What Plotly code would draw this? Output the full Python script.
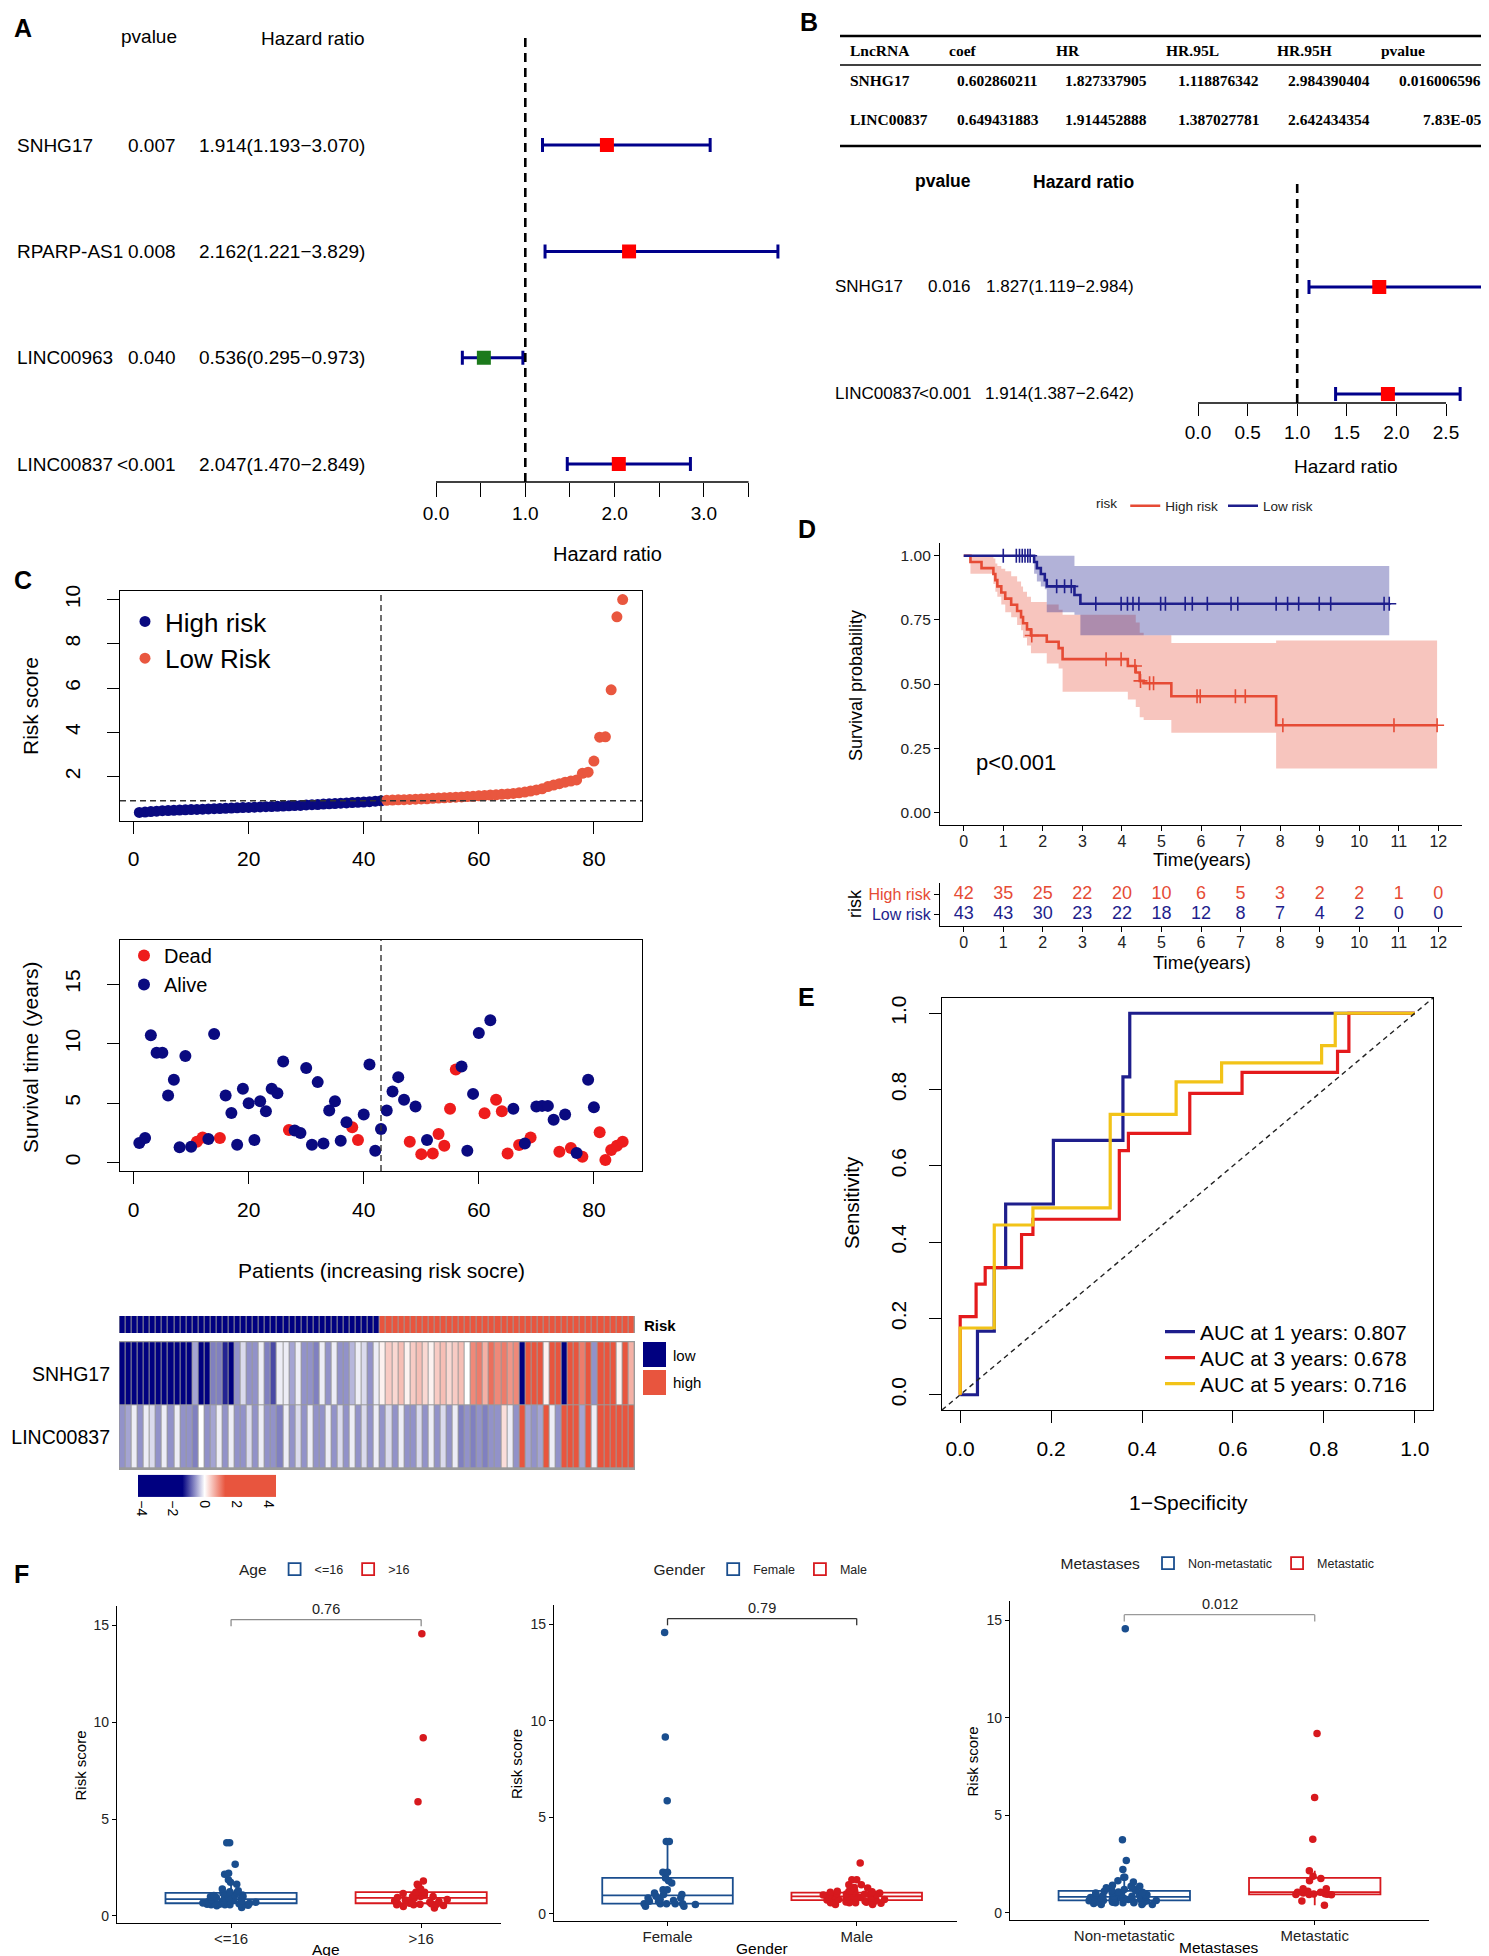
import numpy as np
import plotly.graph_objects as go

W, H = 1489, 1956
FONT = "Liberation Sans, Arial, Helvetica, sans-serif"
SERIF = "Liberation Serif, Times New Roman, serif"

# ============================ DATA ============================
# Panel A : univariate Cox regression
a_genes = ["SNHG17", "RPARP-AS1", "LINC00963", "LINC00837"]
a_pvalue = ["0.007", "0.008", "0.040", "<0.001"]
a_hr = [1.914, 2.162, 0.536, 2.047]
a_lower = [1.193, 1.221, 0.295, 1.470]
a_upper = [3.070, 3.829, 0.973, 2.849]
a_ticks = [0.0, 0.5, 1.0, 1.5, 2.0, 2.5, 3.0, 3.5]
a_ticklabels = ["0.0", "", "1.0", "", "2.0", "", "3.0", ""]

# Panel B : multivariate Cox regression (table + forest)
b_header = ["LncRNA", "coef", "HR", "HR.95L", "HR.95H", "pvalue"]
b_genes = ["SNHG17", "LINC00837"]
b_coef = [0.602860211, 0.649431883]
b_hr = [1.827337905, 1.914452888]
b_lower = [1.118876342, 1.387027781]
b_upper = [2.984390404, 2.642434354]
b_pval = [0.016006596, 7.83e-05]
b_ticks = [0.0, 0.5, 1.0, 1.5, 2.0, 2.5]

# Panel C : risk score, survival status, heatmap
risk_score = [0.38, 0.40, 0.42, 0.44, 0.46, 0.47, 0.48, 0.49, 0.50, 0.51,
              0.52, 0.53, 0.54, 0.55, 0.56, 0.57, 0.58, 0.59, 0.60, 0.61,
              0.62, 0.63, 0.64, 0.65, 0.66, 0.67, 0.68, 0.69, 0.70, 0.72,
              0.73, 0.74, 0.76, 0.77, 0.78, 0.80, 0.81, 0.83, 0.84, 0.85,
              0.87, 0.89, 0.91,
              0.93, 0.94, 0.95, 0.96, 0.97, 0.98, 0.99, 1.00, 1.02, 1.03,
              1.04, 1.06, 1.07, 1.08, 1.10, 1.11, 1.13, 1.15, 1.17, 1.18,
              1.20, 1.22, 1.24, 1.27, 1.30, 1.35, 1.40, 1.45, 1.55, 1.62,
              1.68, 1.75, 1.80, 1.85, 2.15, 2.20, 2.70, 3.78, 3.80, 5.92,
              9.22, 10.0]
surv_time = [1.63, 2.06, 10.7, 9.24, 9.24, 5.63, 6.96, 1.27, 8.96, 1.32,
             1.75, 2.10, 1.97, 10.8, 2.06, 5.63, 4.17, 1.49, 6.20, 4.99,
             1.89, 5.15, 4.31, 6.20, 5.83, 8.50, 2.73, 2.68, 2.48, 7.94,
             1.49, 6.76, 1.60, 4.37, 5.15, 1.83, 3.38, 2.96, 1.89, 4.03,
             8.25, 0.99, 2.82, 4.37, 5.97, 7.18, 5.27, 1.75, 4.70, 0.70,
             1.89, 0.76, 2.39, 1.41, 4.51, 7.83, 8.08, 0.99, 5.77, 10.9,
             4.14, 11.97, 5.27, 4.31, 0.76, 4.51, 1.46, 1.60, 2.10, 4.70,
             4.76, 4.76, 3.60, 0.90, 4.03, 1.21, 0.79, 0.48, 6.96, 4.65,
             2.54, 0.20, 1.04, 1.41, 1.75]
surv_status = [0, 0, 0, 0, 0, 0, 0, 0, 0, 0,
               1, 1, 0, 0, 1, 0, 0, 0, 0, 0,
               0, 0, 0, 0, 0, 0, 1, 0, 0, 0,
               0, 0, 0, 0, 0, 0, 0, 1, 1, 0,
               0, 0, 0, 0, 0, 0, 0, 1, 0, 1,
               0, 1, 1, 1, 1, 1, 0, 0, 0, 0,
               1, 0, 1, 1, 1, 0, 1, 0, 1, 0,
               0, 0, 0, 1, 0, 1, 0, 1, 0, 0,
               1, 1, 1, 1, 1]
snhg17_expr = [-3.5, -3.6, -3.4, -3.5, -3.3, -3.6, -3.4, -3.2, -3.5, -3.3,
               -2.6, -2.2, -0.5, -3.0, -2.0, -0.7, -0.7, -1.2, -1.5, -0.6,
               -0.2, -0.6, -0.6, -0.1, -0.7, -1.0, -0.1, -0.1, -0.5, -0.1,
               -0.6, -0.6, -0.7, -0.1, -0.6, -0.1, -0.6, -0.6, -0.4, -0.1,
               -0.2, -0.6, -0.1,
               0.1, 0.4, 0.3, 0.5, 0.1, 0.4, 0.5, 0.3, 0.1, 0.4, 0.5, 0.3, 0.4,
               0.5, 0.0, 0.9, 1.0, 0.6, 1.1, 0.9, 1.0, 0.8, 0.9,
               -3.0, 2.5, 2.2, 2.6, 0.1, 2.0, 2.4, -3.0, 1.5, 1.8,
               1.0, 2.0, -0.6, 2.5, 2.8, 2.3, 0.1, 2.0, 0.6]
linc00837_expr = [-0.6, -0.5, -0.1, -0.6, -0.1, -0.2, -0.6, -0.1, -0.6, -0.1,
                  -0.6, -0.6, -0.7, 0.0, -0.6, -0.5, -0.1, -0.6, -0.1, -0.6,
                  -0.6, -0.2, -0.6, -0.1, -0.6, -0.6, -0.7, -0.1, -0.6, -0.2,
                  -0.6, -0.1, -0.6, -0.6, -0.1, -0.6, -0.2, -0.6, -0.1, -0.6,
                  -0.2, -0.6,
                  -0.1, -0.6, -0.2, -0.6, -0.1, -0.6, -0.6, -0.2, -0.6, -0.1,
                  -0.6, -0.2, -0.6, -0.1,
                  -0.7, -0.6, -0.7, -0.6, -0.7, -0.6, -0.6,
                  0.25, -0.1, -0.6, 2.0, -0.5, -0.6, -0.5, 1.5, -0.1, -0.6,
                  2.5, 2.2, 2.6, -0.5, 2.3, -0.1,
                  2.5, 2.3, 2.6, 2.4, 2.5, 2.7]
hm_genes = ["LINC00837", "SNHG17"]
hm_cbar_ticks = [-4, -2, 0, 2, 4]

# Panel D : Kaplan-Meier
km_high_time = [0, 0.17, 0.45, 0.75, 0.80, 0.85, 0.95, 1.05, 1.20, 1.35, 1.45, 1.50,
                1.60, 1.70, 2.10, 2.40, 2.50, 4.15, 4.35, 4.45, 4.55, 5.25, 7.90]
km_high_surv = [1.0, 0.976, 0.952, 0.929, 0.905, 0.881, 0.857, 0.833, 0.809, 0.785, 0.761,
                0.737, 0.713, 0.689, 0.665, 0.640, 0.597, 0.570, 0.545, 0.512, 0.503,
                0.452, 0.339]
km_high_lower = [1.0, 0.93, 0.93, 0.89, 0.86, 0.84, 0.81, 0.78, 0.76, 0.73, 0.71, 0.68,
                 0.65, 0.62, 0.58, 0.56, 0.47, 0.44, 0.41, 0.37, 0.36, 0.31, 0.17]
km_high_upper = [1.0, 1.0, 1.0, 0.99, 0.97, 0.96, 0.95, 0.94, 0.92, 0.90, 0.88, 0.86,
                 0.84, 0.82, 0.81, 0.79, 0.77, 0.77, 0.74, 0.70, 0.69, 0.66, 0.67]
km_high_censor = [1.72, 3.60, 3.98, 4.33, 4.47, 4.70, 4.80, 5.90, 5.98, 6.87, 7.12,
                  8.07, 10.88, 11.97]
km_low_time = [0, 1.78, 1.85, 1.95, 2.05, 2.10, 2.80, 2.95]
km_low_surv = [1.0, 0.976, 0.952, 0.929, 0.905, 0.881, 0.847, 0.813]
km_low_lower = [1.0, 0.93, 0.90, 0.88, 0.87, 0.78, 0.77, 0.69]
km_low_upper = [1.0, 1.0, 1.0, 1.0, 1.0, 1.0, 0.96, 0.96]
km_low_censor = [1.00, 1.33, 1.41, 1.48, 1.55, 1.62, 1.68, 2.35, 2.55, 2.72, 3.34, 3.98,
                 4.14, 4.28, 4.43, 4.98, 5.10, 5.60, 5.78, 6.16, 6.76, 6.93, 7.90, 8.19,
                 8.47, 8.99, 9.28, 10.63, 10.76]
km_pvalue = "p<0.001"
tab_times = [0, 1, 2, 3, 4, 5, 6, 7, 8, 9, 10, 11, 12]
tab_high = [42, 35, 25, 22, 20, 10, 6, 5, 3, 2, 2, 1, 0]
tab_low = [43, 43, 30, 23, 22, 18, 12, 8, 7, 4, 2, 0, 0]

# Panel E : time-dependent ROC
roc_years = [1, 3, 5]
roc_auc = [0.807, 0.678, 0.716]
roc1_fpr = [0, 0.038, 0.075, 0.10, 0.205, 0.358, 0.373, 1.0]
roc1_tpr = [0, 0.167, 0.333, 0.5, 0.667, 0.833, 1.0, 1.0]
roc3_fpr = [0, 0, 0.035, 0.055, 0.135, 0.16, 0.35, 0.37, 0.505, 0.62, 0.83, 0.855, 1.0]
roc3_tpr = [0, 0.205, 0.29, 0.333, 0.42, 0.46, 0.64, 0.685, 0.79, 0.845, 0.90, 1.0, 1.0]
roc5_fpr = [0, 0, 0.075, 0.16, 0.33, 0.475, 0.575, 0.795, 0.825, 1.0]
roc5_tpr = [0, 0.175, 0.445, 0.49, 0.735, 0.82, 0.87, 0.915, 1.0, 1.0]

# Panel F : risk score by clinical features
age_le16 = [3.78, 3.78, 2.66, 2.15, 2.20, 1.86, 1.74, 1.63, 1.39, 1.30, 1.25, 1.20,
            1.17, 1.12, 1.08, 1.08, 1.05, 0.95, 0.91, 0.91, 0.88, 0.85, 0.82, 0.82,
            0.77, 0.75, 0.74, 0.74, 0.70, 0.70, 0.68, 0.66, 0.65, 0.65, 0.62, 0.60,
            0.60, 0.60, 0.57, 0.57, 0.57, 0.57, 0.55, 0.52, 0.98, 1.00, 0.93, 0.43]
age_gt16 = [14.57, 9.19, 5.89, 1.80, 1.56, 1.63, 1.39, 1.22, 1.22, 1.00, 0.48, 0.82,
            0.65, 0.77, 0.57, 0.65, 1.00, 0.57, 0.53, 0.74, 0.60, 1.08, 0.74, 0.60,
            0.40, 1.00, 1.08, 0.91, 1.22, 0.70, 0.95, 1.15, 0.62, 0.85]
gender_female = [14.57, 9.16, 5.86, 3.75, 3.75, 2.15, 2.16, 1.86, 1.72, 1.60, 1.25, 0.91,
                 0.53, 1.08, 0.82, 0.52, 0.65, 1.00, 0.52, 0.52, 0.69, 0.65, 1.25, 0.82,
                 1.00, 0.40, 0.52, 0.40, 0.48, 0.74]
gender_male = [2.63, 1.77, 1.77, 1.51, 1.51, 1.34, 1.37, 1.08, 0.82, 0.48, 0.65, 0.91,
               1.03, 0.57, 0.74, 1.00, 0.48, 0.86, 0.65, 1.08, 0.74, 0.57, 1.00, 0.82,
               1.17, 0.91, 1.17, 0.74, 0.57, 1.08, 0.57, 1.17, 1.00, 0.95, 0.88, 0.70,
               1.12, 0.62, 1.20, 0.78, 0.93, 0.66, 1.05, 0.85, 0.60, 1.15, 0.72, 0.98,
               0.80, 0.55, 1.02, 0.90]
meta_non = [14.57, 3.75, 2.68, 2.22, 1.82, 1.82, 1.58, 1.65, 1.28, 1.41, 1.28, 1.19,
            0.73, 0.90, 0.56, 0.68, 0.51, 0.85, 0.63, 1.02, 0.77, 0.51, 1.14, 0.94,
            0.68, 0.43, 1.07, 0.80, 0.60, 0.90, 0.68, 0.51, 1.02, 0.77, 0.63, 0.43,
            0.94, 0.68, 0.51, 1.11, 0.43, 1.36, 1.36, 1.14, 0.58, 0.71, 0.83, 0.97,
            0.66, 0.88, 0.75, 0.54, 1.05, 0.62, 0.79, 0.92, 0.70, 0.48, 0.86, 1.00,
            0.64, 0.74, 0.81, 0.57]
meta_yes = [9.20, 5.91, 3.78, 2.16, 1.87, 1.76, 1.65, 1.24, 1.23, 1.11, 0.94, 1.06,
            1.06, 0.97, 0.94, 0.95, 0.98, 0.60, 0.39, 1.02, 0.92]
f_panels = [
    ("Age", ["<=16", ">16"], [age_le16, age_gt16], "0.76"),
    ("Gender", ["Female", "Male"], [gender_female, gender_male], "0.79"),
    ("Metastases", ["Non-metastatic", "Metastatic"], [meta_non, meta_yes], "0.012"),
]

# ============================ STYLE ============================
NAVY = "#00008B"
FOREST_RED = "#FF0000"
FOREST_GREEN = "#1C7A1C"
C_BLUE = "#0A0A80"
C_RED = "#E9573F"
DEAD_RED = "#EE1C1C"
HM_NAVY = "#000080"
HM_RED = "#E8553E"
KM_RED = "#E64B35"
KM_BLUE = "#1E1E8C"
ROC_COLORS = ["#1E1E8C", "#E41A1C", "#F2C318"]
F_BLUE = "#1A4E8E"
F_RED = "#D7191E"
BRACKET_COLORS = ["#8C8C8C", "#333333", "#9A9A9A"]

fig = go.Figure()
ann = []
shapes = []


def px(x):
    return x / W


def py(y):
    return 1 - y / H


def xd(a, b):
    return [a / W, b / W]


def yd(top, bottom):
    return [1 - bottom / H, 1 - top / H]


def lin_xdom(px0, ppu, rng):
    return [(px0 + rng[0] * ppu) / W, (px0 + rng[1] * ppu) / W]


def lin_ydom(py0, ppu, rng):
    top = py0 - rng[1] * ppu
    bottom = py0 - rng[0] * ppu
    return [1 - bottom / H, 1 - top / H]


def text(t, x, y, size, anchor="center", vanchor="middle", color="black", bold=False,
         family=FONT, angle=0, xref="paper", yref="paper"):
    xx = px(x) if xref == "paper" else x
    yy = py(y) if yref == "paper" else y
    if bold:
        t = "<b>" + t + "</b>"
    ann.append(dict(text=t, x=xx, y=yy, xref=xref, yref=yref, xanchor=anchor,
                    yanchor=vanchor, showarrow=False, textangle=angle,
                    font=dict(size=size, color=color, family=family)))


def axis(domain, rng, **kw):
    d = dict(domain=domain, range=rng, showgrid=False, zeroline=False, showline=False,
             ticks="", showticklabels=False, automargin=False, fixedrange=True)
    d.update(kw)
    return d


axes = {}

# ---------------- Panel A ----------------
a_rng_x = [-1.0, 4.2]
a_rng_y = [-0.17, 4.10]
axes["xaxis"] = axis(lin_xdom(428, 89.3, a_rng_x), a_rng_x, anchor="y", ticks="outside",
                     tickvals=a_ticks, ticktext=a_ticklabels, ticklen=14, tickwidth=1.4,
                     tickcolor="black", showticklabels=True,
                     tickfont=dict(size=19, color="black"))
a_cats = a_genes[::-1]
axes["yaxis"] = axis(lin_ydom(456, 106.3, a_rng_y), a_rng_y, anchor="x", type="category",
                     categoryorder="array", categoryarray=a_cats)
fig.add_trace(go.Scatter(
    x=a_hr, y=a_genes, mode="markers", xaxis="x", yaxis="y", showlegend=False,
    marker=dict(symbol="square", size=14,
                color=[FOREST_RED if h > 1 else FOREST_GREEN for h in a_hr]),
    error_x=dict(type="data", symmetric=False,
                 array=[u - h for u, h in zip(a_upper, a_hr)],
                 arrayminus=[h - l for h, l in zip(a_hr, a_lower)],
                 color=NAVY, thickness=3, width=7),
    hoverinfo="skip"))
shapes.append(dict(type="line", xref="x", yref="y domain", x0=a_ticks[0], x1=a_ticks[-1],
                   y0=0, y1=0, line=dict(color="black", width=1.5)))
shapes.append(dict(type="line", xref="x", yref="y domain", x0=1, x1=1, y0=0, y1=0.99,
                   line=dict(color="black", width=2.6, dash="9px,6px")))
text("A", 4, 20, 25, anchor="left", bold=True)
text("pvalue", 171, 29, 19, anchor="right")
text("Hazard ratio", 359, 31, 19, anchor="right")
for g, p, h, lo, hi in zip(a_genes, a_pvalue, a_hr, a_lower, a_upper):
    yi = a_cats.index(g)
    text(g, 7, yi, 19, anchor="left", yref="y")
    text(p, 170, yi, 19, anchor="right", yref="y")
    text(f"{h:.3f}({lo:.3f}\u2212{hi:.3f})", 359, yi, 19, anchor="right", yref="y")
text("Hazard ratio", 599, 546, 20)

# ---------------- Panel B ----------------
text("B", 790, 14, 25, anchor="left", bold=True)
for ry, lw in [(28, 2.6), (57, 1.3), (138, 2.6)]:
    shapes.append(dict(type="line", xref="paper", yref="paper", x0=px(832), x1=px(1484),
                       y0=py(ry), y1=py(ry), line=dict(color="black", width=lw)))
head_x = [840, 939, 1046, 1156, 1267, 1371]
for hx, ht in zip(head_x, b_header):
    text(ht, hx, 43, 15.5, anchor="left", bold=True, family=SERIF)
val_x = [840, 947, 1055, 1168, 1278]
for ry, g, c, h, lo, hi, p in zip([72, 111], b_genes, b_coef, b_hr, b_lower, b_upper, b_pval):
    cells = [g, f"{c:.9f}", f"{h:.9f}", f"{lo:.9f}", f"{hi:.9f}"]
    for cx, ct in zip(val_x, cells):
        text(ct, cx, ry, 15.5, anchor="left", bold=True, family=SERIF)
    ptxt = f"{p:.2E}" if p < 1e-3 else f"{p:.9f}"
    text(ptxt, 1475, ry, 15.5, anchor="right", bold=True, family=SERIF)

b_rng_x = [-0.5, 3.0]
b_rng_y = [-0.084, 2.02]
b_cats = b_genes[::-1]
axes["xaxis2"] = axis(lin_xdom(1190, 99.2, b_rng_x), b_rng_x, anchor="y2", ticks="outside",
                      tickvals=b_ticks, ticktext=[f"{t:.1f}" for t in b_ticks], ticklen=12,
                      tickwidth=1.4, tickcolor="black", showticklabels=True,
                      tickfont=dict(size=19, color="black"))
axes["yaxis2"] = axis(lin_ydom(386, 107, b_rng_y), b_rng_y, anchor="x2", type="category",
                      categoryorder="array", categoryarray=b_cats)
fig.add_trace(go.Scatter(
    x=b_hr, y=b_genes, mode="markers", xaxis="x2", yaxis="y2", showlegend=False,
    marker=dict(symbol="square", size=14,
                color=[FOREST_RED if h > 1 else FOREST_GREEN for h in b_hr]),
    error_x=dict(type="data", symmetric=False,
                 array=[u - h for u, h in zip(b_upper, b_hr)],
                 arrayminus=[h - l for h, l in zip(b_hr, b_lower)],
                 color=NAVY, thickness=3, width=7),
    hoverinfo="skip"))
shapes.append(dict(type="line", xref="x2", yref="y2 domain", x0=b_ticks[0], x1=b_ticks[-1],
                   y0=0, y1=0, line=dict(color="black", width=1.5)))
shapes.append(dict(type="line", xref="x2", yref="y2 domain", x0=1, x1=1, y0=0, y1=0.99,
                   line=dict(color="black", width=2.6, dash="9px,6px")))
text("pvalue", 965, 173, 17.5, anchor="right", bold=True)
text("Hazard ratio", 1128, 174, 17.5, anchor="right", bold=True)
for g, h, lo, hi, p in zip(b_genes, b_hr, b_lower, b_upper, b_pval):
    yi = b_cats.index(g)
    text(g, 825, yi, 17, anchor="left", yref="y2")
    ptxt = "<0.001" if p < 1e-3 else f"{p:.3f}"
    text(ptxt, 965, yi, 17, anchor="right", yref="y2")
    text(f"{h:.3f}({lo:.3f}\u2212{hi:.3f})", 1128, yi, 17, anchor="right", yref="y2")
text("Hazard ratio", 1338, 459, 19)

# ---------------- Panel C (risk score) ----------------
n = len(risk_score)
patients = list(range(1, n + 1))
cutoff = float(np.median(risk_score))
risk_group = ["high" if s > cutoff else "low" for s in risk_score]
n_low = risk_group.count("low")
text("C", 4, 572, 25, anchor="left", bold=True)
box_axis = dict(showline=True, mirror=True, linecolor="black", linewidth=1.3,
                ticks="outside", ticklen=12, tickwidth=1.3, tickcolor="black",
                showticklabels=True)
c_xrng = [1 - 0.04 * (n - 1), n + 0.04 * (n - 1)]
axes["xaxis3"] = axis(xd(112, 634), c_xrng, anchor="y3", tickvals=[0, 20, 40, 60, 80],
                      tickfont=dict(size=21, color="black"), ticklabelstandoff=7, **box_axis)
axes["yaxis3"] = axis(yd(583, 813), [-0.005, 10.385], anchor="x3", tickvals=[2, 4, 6, 8, 10],
                      tickangle=-90, tickfont=dict(size=21, color="black"),
                      ticklabelstandoff=18, **box_axis)
for grp, name, col in [("low", "High risk", C_BLUE), ("high", "Low Risk", C_RED)]:
    xs = [p for p, g in zip(patients, risk_group) if g == grp]
    ys = [s for s, g in zip(risk_score, risk_group) if g == grp]
    fig.add_trace(go.Scatter(x=xs, y=ys, mode="markers", name=name, xaxis="x3", yaxis="y3",
                             marker=dict(color=col, size=11), legend="legend",
                             hoverinfo="skip"))
shapes.append(dict(type="line", xref="x3", yref="y3 domain", x0=n_low, x1=n_low, y0=0, y1=1,
                   line=dict(color="#333", width=1.4, dash="6px,4px")))
shapes.append(dict(type="line", xref="x3 domain", yref="y3", x0=0, x1=1, y0=cutoff, y1=cutoff,
                   line=dict(color="#333", width=1.4, dash="6px,4px")))
text("Risk score", 22, 698, 21, angle=-90)

# ---------------- Panel C (survival status) ----------------
axes["xaxis4"] = axis(xd(112, 634), c_xrng, anchor="y4", tickvals=[0, 20, 40, 60, 80],
                      tickfont=dict(size=21, color="black"), ticklabelstandoff=8, **box_axis)
axes["yaxis4"] = axis(yd(932, 1163), [-0.72, 18.72], anchor="x4", tickvals=[0, 5, 10, 15],
                      tickangle=-90, tickfont=dict(size=21, color="black"),
                      ticklabelstandoff=18, **box_axis)
for st, name, col in [(1, "Dead", DEAD_RED), (0, "Alive", C_BLUE)]:
    xs = [p for p, s in zip(patients, surv_status) if s == st]
    ys = [t for t, s in zip(surv_time, surv_status) if s == st]
    fig.add_trace(go.Scatter(x=xs, y=ys, mode="markers", name=name, xaxis="x4", yaxis="y4",
                             marker=dict(color=col, size=12), legend="legend2",
                             hoverinfo="skip"))
shapes.append(dict(type="line", xref="x4", yref="y4 domain", x0=n_low, x1=n_low, y0=0, y1=1,
                   line=dict(color="#333", width=1.4, dash="6px,4px")))
text("Survival time (years)", 22, 1050, 21, angle=-90)
text("Patients (increasing risk socre)", 373, 1262, 21)

# ---------------- Panel C (heatmap) ----------------
hm_rng = [-0.6, n - 0.4]
axes["xaxis5"] = axis(xd(111, 627), hm_rng, anchor="y5")
axes["yaxis5"] = axis(yd(1308, 1325), [-0.5, 0.5], anchor="x5")
axes["xaxis6"] = axis(xd(111, 627), hm_rng, anchor="y6")
axes["yaxis6"] = axis(yd(1333, 1462), [-0.52, 1.52], anchor="x6", type="category",
                      categoryorder="array", categoryarray=hm_genes, showticklabels=True,
                      tickfont=dict(size=19.5, color="black"), ticklabelstandoff=8)
for ax in ["5", "6"]:
    shapes.append(dict(type="rect", xref=f"x{ax} domain", yref=f"y{ax} domain", x0=0, x1=1,
                       y0=0, y1=1, layer="below", line=dict(width=0), fillcolor="#9A9A9A"))
fig.add_trace(go.Heatmap(
    z=[[1 if g == "high" else 0 for g in risk_group]], xaxis="x5", yaxis="y5",
    colorscale=[[0, HM_NAVY], [0.5, HM_NAVY], [0.5, HM_RED], [1, HM_RED]],
    zmin=0, zmax=1, showscale=False, xgap=1, ygap=0, hoverinfo="skip"))
zmin, zmax = -4.2, 4.5


def pos(v):
    return (v - zmin) / (zmax - zmin)


fig.add_trace(go.Heatmap(
    z=[linc00837_expr, snhg17_expr], y=hm_genes, xaxis="x6", yaxis="y6",
    zmin=zmin, zmax=zmax, xgap=1, ygap=1, hoverinfo="skip",
    colorscale=[[0, HM_NAVY], [pos(-1.4), HM_NAVY], [pos(0.0), "#FFFFFF"],
                [pos(1.3), HM_RED], [1, HM_RED]],
    colorbar=dict(orientation="h", x=px(199), xanchor="center", y=py(1486),
                  yanchor="middle", len=158, lenmode="pixels", thickness=22,
                  thicknessmode="pixels", tickvals=hm_cbar_ticks,
                  ticktext=[str(t).replace("-", "\u2212") for t in hm_cbar_ticks],
                  tickangle=90, ticks="", outlinewidth=0,
                  tickfont=dict(size=14, color="black"))))
text("Risk", 634, 1317, 15, anchor="left", bold=True)
shapes.append(dict(type="rect", xref="paper", yref="paper", x0=px(635), x1=px(658),
                   y0=py(1359), y1=py(1334), fillcolor=HM_NAVY, line=dict(width=0)))
shapes.append(dict(type="rect", xref="paper", yref="paper", x0=px(635), x1=px(658),
                   y0=py(1387), y1=py(1362), fillcolor=HM_RED, line=dict(width=0)))
text("low", 663, 1347, 15, anchor="left")
text("high", 663, 1374, 15, anchor="left")

# ---------------- Panel D (KM) ----------------
text("D", 788, 521, 25, anchor="left", bold=True)
gg_axis = dict(showline=True, linecolor="black", linewidth=1.3, ticks="outside", ticklen=5,
               tickwidth=1.2, tickcolor="black", showticklabels=True)
axes["xaxis7"] = axis(xd(932, 1454), [-0.6, 12.6], anchor="y7", tickvals=tab_times,
                      tickfont=dict(size=16, color="#222"), ticklabelstandoff=-3, **gg_axis)
axes["yaxis7"] = axis(yd(535, 817), [-0.05, 1.05], anchor="x7",
                      tickvals=[0, 0.25, 0.5, 0.75, 1.0], tickformat=".2f",
                      tickfont=dict(size=15.5, color="#222"), **gg_axis)


def step_at(times, vals, t):
    i = int(np.searchsorted(times, t, side="right")) - 1
    return vals[i]


groups = [("High risk", km_high_time, km_high_surv, km_high_lower, km_high_upper,
           km_high_censor, KM_RED, "rgba(230,75,53,0.32)"),
          ("Low risk", km_low_time, km_low_surv, km_low_lower, km_low_upper,
           km_low_censor, KM_BLUE, "rgba(30,30,140,0.34)")]
for name, tt, ss, lo, up, cen, col, fillc in groups:
    end = max(cen)
    xs = tt + [end]
    fig.add_trace(go.Scatter(x=xs, y=lo + [lo[-1]], mode="lines", line=dict(width=0, shape="hv"),
                             xaxis="x7", yaxis="y7", showlegend=False, hoverinfo="skip"))
    fig.add_trace(go.Scatter(x=xs, y=up + [up[-1]], mode="lines", line=dict(width=0, shape="hv"),
                             fill="tonexty", fillcolor=fillc, xaxis="x7", yaxis="y7",
                             showlegend=False, hoverinfo="skip"))
for name, tt, ss, lo, up, cen, col, fillc in groups:
    end = max(cen)
    fig.add_trace(go.Scatter(x=tt + [end], y=ss + [ss[-1]], mode="lines", name=name,
                             line=dict(color=col, width=2.6, shape="hv"), xaxis="x7",
                             yaxis="y7", legend="legend3", hoverinfo="skip"))
    fig.add_trace(go.Scatter(x=cen, y=[step_at(tt, ss, c) for c in cen], mode="markers",
                             marker=dict(symbol="cross-thin", size=10,
                                         line=dict(color=col, width=1.6)),
                             xaxis="x7", yaxis="y7", showlegend=False, hoverinfo="skip"))
text(km_pvalue, 966, 754, 22, anchor="left")
text("Survival probability", 848, 677, 18, angle=-90)
text("Time(years)", 1194, 852, 18.5)

# risk table
axes["xaxis8"] = axis(xd(932, 1454), [-0.6, 12.6], anchor="y8", tickvals=tab_times,
                      tickfont=dict(size=16, color="#222"), ticklabelstandoff=-3, **gg_axis)
axes["yaxis8"] = axis(yd(875, 918), [-0.6, 1.6], anchor="x8", type="category",
                      categoryorder="array", categoryarray=["Low risk", "High risk"],
                      tickvals=["Low risk", "High risk"],
                      ticktext=[f'<span style="color:{KM_BLUE}">Low risk</span>',
                                f'<span style="color:{KM_RED}">High risk</span>'],
                      tickfont=dict(size=16), **gg_axis)
for grp, counts, col in [("High risk", tab_high, KM_RED), ("Low risk", tab_low, KM_BLUE)]:
    fig.add_trace(go.Scatter(x=tab_times, y=[grp] * len(counts), text=[str(c) for c in counts],
                             mode="text", textfont=dict(size=18, color=col, family=FONT),
                             xaxis="x8", yaxis="y8", showlegend=False, cliponaxis=False,
                             hoverinfo="skip"))
text("risk", 847, 896, 18, angle=-90)
text("Time(years)", 1194, 954, 18.5)

# ---------------- Panel E (ROC) ----------------
text("E", 788, 989, 25, anchor="left", bold=True)
e_rng = [-0.04, 1.04]
axes["xaxis9"] = axis(xd(934, 1425), e_rng, anchor="y9", tickvals=[0, 0.2, 0.4, 0.6, 0.8, 1.0],
                      tickformat=".1f", tickfont=dict(size=21, color="black"),
                      ticklabelstandoff=8, **box_axis)
axes["yaxis9"] = axis(yd(990, 1402), e_rng, anchor="x9", tickvals=[0, 0.2, 0.4, 0.6, 0.8, 1.0],
                      tickformat=".1f", tickangle=-90, tickfont=dict(size=21, color="black"),
                      ticklabelstandoff=14, **box_axis)
shapes.append(dict(type="line", xref="x9", yref="y9", x0=e_rng[0], y0=e_rng[0], x1=e_rng[1],
                   y1=e_rng[1], line=dict(color="#222", width=1.4, dash="5px,4px")))
roc_legends = ["legend7", "legend8", "legend9"]
for yr, auc, fx, ty, col, lg in zip(roc_years, roc_auc, [roc1_fpr, roc3_fpr, roc5_fpr],
                                    [roc1_tpr, roc3_tpr, roc5_tpr], ROC_COLORS, roc_legends):
    fig.add_trace(go.Scatter(x=fx, y=ty, mode="lines", line=dict(color=col, width=3.2, shape="hv"),
                             name=f"AUC at {yr} years: {auc:.3f}", xaxis="x9", yaxis="y9",
                             legend=lg, hoverinfo="skip"))
text("Sensitivity", 843, 1195, 20.5, angle=-90)
text("1\u2212Specificity", 1180, 1494, 21)

# ---------------- Panel F (boxplots) ----------------
text("F", 4, 1566, 25, anchor="left", bold=True)
f_geom = [
    dict(x=(109, 493), y=(1598, 1915), xr=[-0.6, 1.42], leg=(318, 1562), ylab=72, xlab=1941),
    dict(x=(546, 949), y=(1597, 1913), xr=[-0.6, 1.53], leg=(754, 1562), ylab=508, xlab=1940),
    dict(x=(1002, 1421), y=(1593, 1912), xr=[-0.6, 1.6], leg=(1211, 1556), ylab=964, xlab=1939),
]
f_axis = dict(showline=True, linecolor="black", linewidth=1.2, ticks="outside", ticklen=4,
              tickwidth=1.2, tickcolor="black", showticklabels=True)
for k, ((title, cats, vals, ptxt), g) in enumerate(zip(f_panels, f_geom)):
    ax = str(10 + k)
    leg = f"legend{10 + k}"
    axes["xaxis" + ax] = axis(xd(*g["x"]), g["xr"], anchor="y" + ax, type="category",
                              categoryorder="array", categoryarray=cats,
                              tickfont=dict(size=15, color="#222"), ticklabelstandoff=-2,
                              **f_axis)
    axes["yaxis" + ax] = axis(yd(*g["y"]), [-0.37, 16.0], anchor="x" + ax,
                              tickvals=[0, 5, 10, 15], tickfont=dict(size=14, color="#222"),
                              **f_axis)
    for cat, v, col in zip(cats, vals, [F_BLUE, F_RED]):
        fig.add_trace(go.Box(y=v, name=cat, xaxis="x" + ax, yaxis="y" + ax, legend=leg,
                             boxpoints="all", jitter=0.55, pointpos=0, width=0.69,
                             whiskerwidth=0, fillcolor="rgba(255,255,255,0)",
                             line=dict(color=col, width=1.8),
                             marker=dict(color=col, size=7.5), hoverinfo="skip"))
    top = max(max(v) for v in vals)
    by = top * 1.05
    drop = by - 0.35
    bcol = BRACKET_COLORS[k]
    shapes.append(dict(type="line", xref="x" + ax, yref="y" + ax, x0=0, x1=1, y0=by, y1=by,
                       line=dict(color=bcol, width=1.3)))
    shapes.append(dict(type="line", xref="x" + ax, yref="y" + ax, x0=0, x1=0, y0=drop, y1=by,
                       line=dict(color=bcol, width=1.3)))
    shapes.append(dict(type="line", xref="x" + ax, yref="y" + ax, x0=1, x1=1, y0=drop, y1=by,
                       line=dict(color=bcol, width=1.3)))
    ann.append(dict(text=ptxt, x=0.5, y=by, xref="x" + ax, yref="y" + ax, xanchor="center",
                    yanchor="bottom", showarrow=False, yshift=1,
                    font=dict(size=14.5, color="#222", family=FONT)))
    text("Risk score", g["ylab"], (g["y"][0] + g["y"][1]) / 2 + 1, 15, angle=-90)
    text(title, g["leg"][0], g["xlab"], 15.5)

# ---------------- Legends ----------------
legends = dict(
    legend=dict(x=px(117), y=py(590), xanchor="left", yanchor="top", traceorder="normal",
                font=dict(size=26, color="black"), bgcolor="rgba(0,0,0,0)"),
    legend2=dict(x=px(116), y=py(928), xanchor="left", yanchor="top", traceorder="normal",
                 font=dict(size=20, color="black"), bgcolor="rgba(0,0,0,0)"),
    legend3=dict(orientation="h", x=px(1198), y=py(498), xanchor="center", yanchor="middle",
                 traceorder="normal",
                 title=dict(text="risk", side="left", font=dict(size=13.5)),
                 font=dict(size=13.5, color="#222"), bgcolor="rgba(0,0,0,0)"),
)
for lg, ry in zip(roc_legends, [1324, 1350, 1376]):
    legends[lg] = dict(x=px(1152), y=py(ry), xanchor="left", yanchor="middle",
                       font=dict(size=21, color="black"), bgcolor="rgba(0,0,0,0)")
for k, ((title, cats, vals, ptxt), g) in enumerate(zip(f_panels, f_geom)):
    legends[f"legend{10 + k}"] = dict(
        orientation="h", x=px(g["leg"][0]), y=py(g["leg"][1]), xanchor="center",
        yanchor="middle", traceorder="normal",
        title=dict(text=title, side="left", font=dict(size=15.5)),
        font=dict(size=12.5, color="#222"), bgcolor="rgba(0,0,0,0)")

fig.update_layout(
    width=W, height=H, template="none", autosize=False,
    margin=dict(l=0, r=0, t=0, b=0, pad=0),
    paper_bgcolor="white", plot_bgcolor="rgba(0,0,0,0)",
    font=dict(family=FONT, color="black"),
    showlegend=True, annotations=ann, shapes=shapes, boxmode="overlay",
    **axes, **legends)

fig.write_html("out.html")
